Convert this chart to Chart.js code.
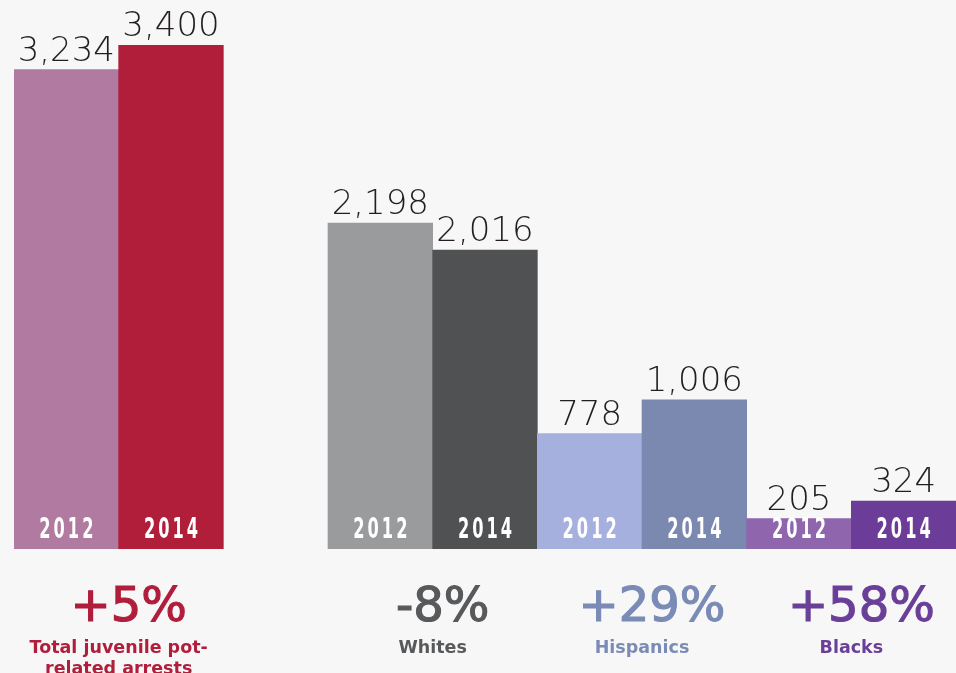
<!DOCTYPE html>
<html>
<head>
<meta charset="utf-8">
<script src="https://cdn.jsdelivr.net/npm/chart.js@4"></script>
<style>
  html, body { margin: 0; padding: 0; background: #f7f7f7; }
  #wrap { width: 956px; height: 673px; }
</style>
</head>
<body>
<div id="wrap"><canvas id="myChart" width="956" height="673"></canvas></div>
<script>
// bars, with an empty slot between the total and the groups
const years = ['2012', '2014', '', '2012', '2014', '2012', '2014', '2012', '2014'];
const arrests = [3234, 3400, null, 2198, 2016, 778, 1006, 205, 324];
const barColors = ['#b07aa1', '#b01e3a', 'rgba(0,0,0,0)', '#9a9b9d', '#505153', '#a6b0de', '#7b89b1', '#8f66ad', '#6b3d98'];

// summary under each pair (index of the first bar of the pair)
const pairStart = [0, 3, 5, 7];
const changes = ['+5%', '-8%', '+29%', '+58%'];
const groupNames = [['Total juvenile pot-', 'related arrests'], ['Whites'], ['Hispanics'], ['Blacks']];
const groupColors = ['#b01e3c', '#58595b', '#7a8bb5', '#6a3f98'];

// narrow, spaced year text (no condensed font installed, so squeeze it)
function drawYear(ctx, text, x, y) {
  const sx = 0.56, gap = 3;
  ctx.save();
  ctx.font = 'bold 29px "DejaVu Sans"';
  ctx.textAlign = 'left';
  const widths = text.split('').map(c => ctx.measureText(c).width * sx);
  const total = widths.reduce((a, b) => a + b, 0) + gap * (text.length - 1);
  let cx = x - total / 2;
  text.split('').forEach((c, i) => {
    ctx.save();
    ctx.translate(cx, y);
    ctx.scale(sx, 1);
    ctx.fillText(c, 0, 0);
    ctx.restore();
    cx += widths[i] + gap;
  });
  ctx.restore();
}

const labelsPlugin = {
  id: 'labels',
  afterDatasetsDraw(chart) {
    const ctx = chart.ctx;
    const meta = chart.getDatasetMeta(0);
    ctx.save();
    ctx.textAlign = 'center';
    ctx.textBaseline = 'alphabetic';
    meta.data.forEach((bar, i) => {
      if (arrests[i] == null) return;
      // value above bar
      ctx.fillStyle = '#231f20';
      ctx.font = '200 34px "DejaVu Sans"';
      ctx.fillText(arrests[i].toLocaleString('en-US'), bar.x, bar.y - 9);
      // year inside bar
      ctx.fillStyle = '#ffffff';
      drawYear(ctx, years[i], bar.x, bar.base - 11);
    });
    // summaries
    pairStart.forEach((s, k) => {
      const x = (meta.data[s].x + meta.data[s + 1].x) / 2;
      ctx.fillStyle = groupColors[k];
      ctx.strokeStyle = groupColors[k];
      ctx.lineWidth = 1.2;
      ctx.font = '48px "DejaVu Sans"';
      ctx.fillText(changes[k], x + 10, 621);
      ctx.strokeText(changes[k], x + 10, 621);
      ctx.font = 'bold 17.5px "DejaVu Sans"';
      groupNames[k].forEach((line, j) => {
        ctx.fillText(line, x, 653 + j * 21);
      });
    });
    ctx.restore();
  }
};

const ctx = document.getElementById('myChart').getContext('2d');
const myChart = new Chart(ctx, {
  type: 'bar',
  data: {
    labels: years,
    datasets: [{
      data: arrests,
      backgroundColor: barColors,
      borderWidth: 0,
      barPercentage: 1,
      categoryPercentage: 1
    }]
  },
  options: {
    responsive: false,
    animation: false,
    layout: { padding: { left: 14, right: 0, top: 45, bottom: 124 } },
    plugins: {
      legend: { display: false },
      tooltip: { enabled: false }
    },
    scales: {
      x: { display: false },
      y: { display: false, min: 0, max: 3400 }
    }
  },
  plugins: [labelsPlugin]
});
</script>
</body>
</html>
